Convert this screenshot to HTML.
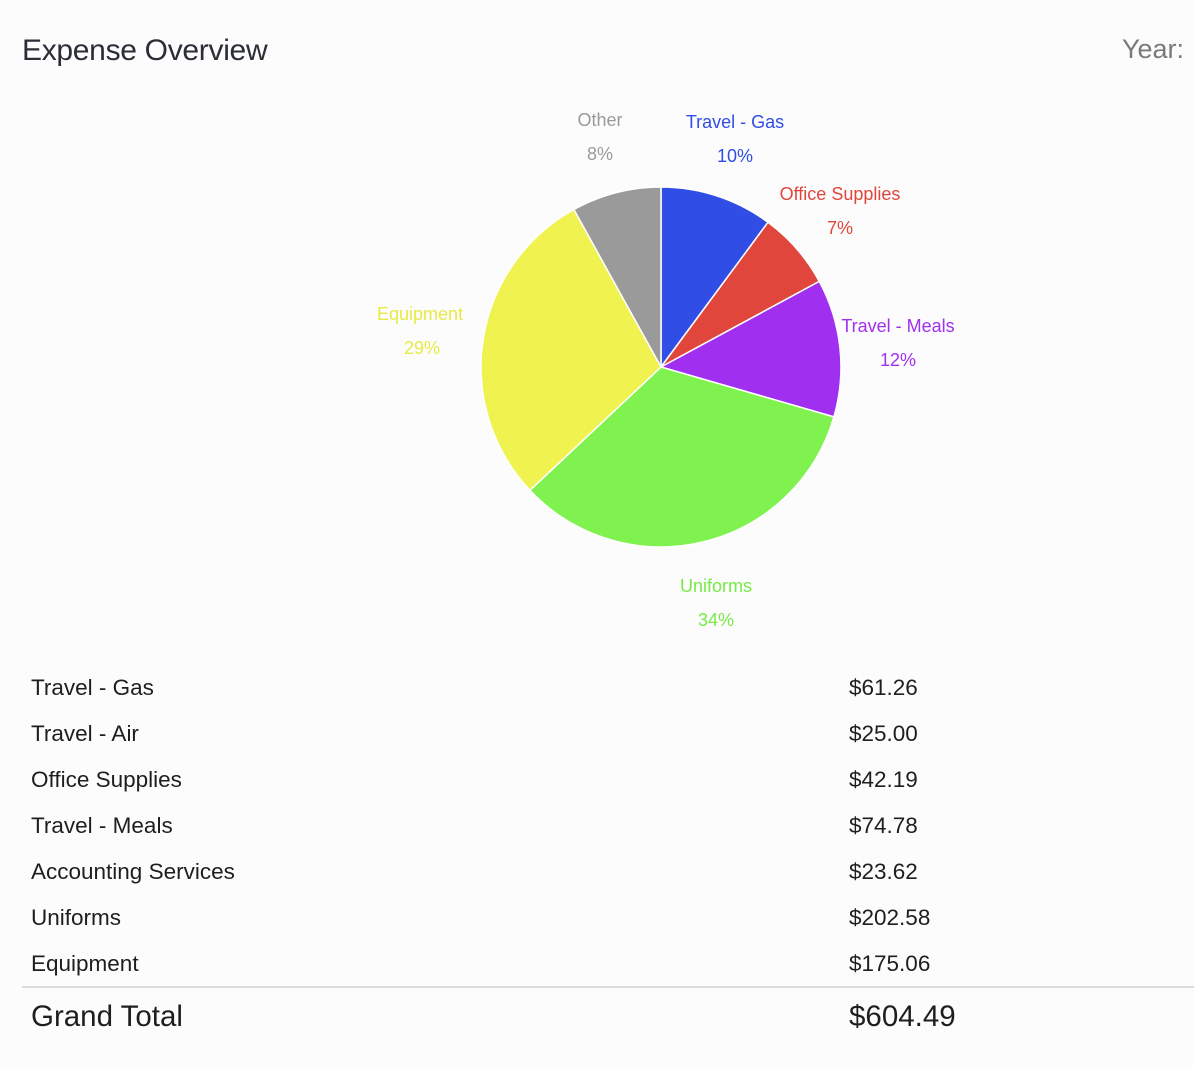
<!DOCTYPE html>
<html><head><meta charset="utf-8"><style>
html,body{margin:0;padding:0;background:#fcfcfc;width:1194px;height:1068px;overflow:hidden;font-family:"Liberation Sans",sans-serif}
svg{position:absolute;left:0;top:0}
</style></head><body>
<svg width="1194" height="1068" viewBox="0 0 1194 1068">
<text x="22" y="60" font-size="30" fill="#2b2e36" letter-spacing="-0.3">Expense Overview</text>
<text x="1184" y="58" font-size="27" fill="#7a7a7a" text-anchor="end">Year:</text>
<g stroke="#fff" stroke-width="1.5" stroke-linejoin="round">
<path d="M661,367 L661,187 A180,180 0 0 1 768,222.3 Z" fill="#304de6"/>
<path d="M661,367 L768,222.3 A180,180 0 0 1 819.3,281.4 Z" fill="#e0463b"/>
<path d="M661,367 L819.3,281.4 A180,180 0 0 1 833.9,416.9 Z" fill="#a12ff0"/>
<path d="M661,367 L833.9,416.9 A180,180 0 0 1 529.9,490.3 Z" fill="#80f24f"/>
<path d="M661,367 L529.9,490.3 A180,180 0 0 1 573.9,209.5 Z" fill="#f0f250"/>
<path d="M661,367 L573.9,209.5 A180,180 0 0 1 661,187 Z" fill="#9a9a9a"/>
</g>
<g font-size="18" text-anchor="middle">
<text x="600" y="126" fill="#9a9a9a">Other</text><text x="600" y="160" fill="#9a9a9a">8%</text>
<text x="735" y="128" fill="#304de6">Travel - Gas</text><text x="735" y="162" fill="#304de6">10%</text>
<text x="840" y="200" fill="#e0463b">Office Supplies</text><text x="840" y="234" fill="#e0463b">7%</text>
<text x="898" y="332" fill="#a12ff0">Travel - Meals</text><text x="898" y="366" fill="#a12ff0">12%</text>
<text x="420" y="320" fill="#e8ea44">Equipment</text><text x="422" y="354" fill="#e8ea44">29%</text>
<text x="716" y="592" fill="#78ea47">Uniforms</text><text x="716" y="626" fill="#78ea47">34%</text>
</g>
<g font-size="22.5" fill="#1e1e1e">
<text x="31" y="695">Travel - Gas</text><text x="849" y="695">$61.26</text>
<text x="31" y="741">Travel - Air</text><text x="849" y="741">$25.00</text>
<text x="31" y="787">Office Supplies</text><text x="849" y="787">$42.19</text>
<text x="31" y="833">Travel - Meals</text><text x="849" y="833">$74.78</text>
<text x="31" y="879">Accounting Services</text><text x="849" y="879">$23.62</text>
<text x="31" y="925">Uniforms</text><text x="849" y="925">$202.58</text>
<text x="31" y="971">Equipment</text><text x="849" y="971">$175.06</text>
</g>
<rect x="22" y="986" width="1172" height="2" fill="#dcdcdc"/>
<g font-size="29.5" fill="#1e1e1e">
<text x="31" y="1026">Grand Total</text><text x="849" y="1026">$604.49</text>
</g>
</svg>
</body></html>
